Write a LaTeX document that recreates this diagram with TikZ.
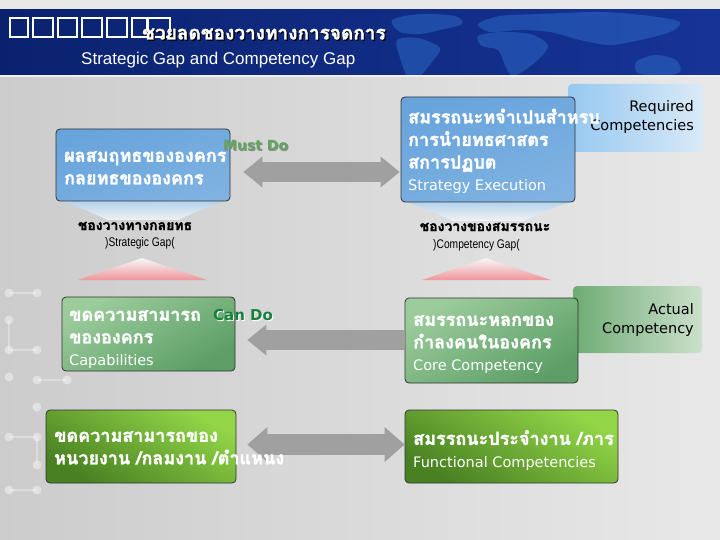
\documentclass[tikz,border=0pt]{standalone}
\usepackage{fontspec}
\setmainfont{DejaVu Sans}
\newfontfamily\thaifont[Script=Thai,BoldFeatures={FakeBold=1.6}]{Loma}
\newfontfamily\arialfont{Liberation Sans}
\newfontfamily\narrowfont[FakeStretch=0.82]{Liberation Sans}
\newcommand\engfont{\normalfont\fontsize{14.5}{16}\selectfont}
\usetikzlibrary{arrows.meta,positioning,calc}
\definecolor{sNavy}{RGB}{10,34,110}
\definecolor{sNavyL}{RGB}{22,52,150}
\definecolor{sMap}{RGB}{50,115,210}
\definecolor{sBlueA}{RGB}{104,164,220}
\definecolor{sBlueB}{RGB}{176,211,240}
\definecolor{sSideB}{RGB}{150,200,240}
\definecolor{sSideBL}{RGB}{218,234,247}
\definecolor{sGreenA}{RGB}{92,158,102}
\definecolor{sGreenB}{RGB}{156,204,156}
\definecolor{sSideG}{RGB}{110,172,116}
\definecolor{sSideGL}{RGB}{204,224,204}
\definecolor{sLimeA}{RGB}{72,128,34}
\definecolor{sLimeB}{RGB}{146,214,72}
\definecolor{sGrayArr}{RGB}{160,160,160}
\definecolor{sMust}{RGB}{96,166,96}
\definecolor{sCan}{RGB}{24,128,60}
\definecolor{sPink}{RGB}{238,150,156}

\begin{document}
\begin{tikzpicture}[x=1pt,y=-1pt,
	box/.style={draw=black!80,line width=0.8pt,rounded corners=4pt,inner sep=0pt},
	bluebox/.style={box,top color=sBlueA,middle color=sBlueB,bottom color=sBlueA!85!white,shading angle=20},
	greenbox/.style={box,top color=sGreenB,bottom color=sGreenA,shading angle=30},
	limebox/.style={box,top color=sLimeB,bottom color=sLimeA,shading angle=-30},
	side/.style={rounded corners=4pt,inner sep=0pt},
	thai/.style={font=\thaifont\bfseries\fontsize{18}{22.5}\selectfont,text=white,align=left,inner sep=0pt},
	sidetxt/.style={font=\fontsize{14.5}{19.5}\selectfont,align=right,inner sep=0pt},
	gaplbl/.style={font=\thaifont\bfseries\fontsize{14}{16}\selectfont,inner sep=0pt},
	gapsub/.style={font=\narrowfont\fontsize{12.5}{14}\selectfont,inner sep=0pt},
	garr/.style={draw=sGrayArr,line width=20pt},
	gtip/.tip={Triangle[length=19pt,width=31pt,line width=0pt]},
	gtipb/.tip={Triangle[length=20pt,width=35pt,line width=0pt]}
	]
	\useasboundingbox (0,0) rectangle (720,540);
	% background and banner
	\shade[left color=black!20,middle color=black!3,right color=black!9] (0,75) rectangle (720,540);
	\fill[black!9] (0,0) rectangle (720,10);
	\shade[left color=sNavy,right color=sNavyL] (0,10) rectangle (720,75);
	\begin{scope}
		\clip (0,10) rectangle (720,75);
		\fill[sMap,opacity=.45] plot[smooth cycle] coordinates {(392,20) (420,14) (455,16) (462,24) (440,30) (420,34) (400,32)};
		\fill[sMap,opacity=.45] plot[smooth cycle] coordinates {(397,40) (418,38) (440,48) (432,62) (418,78) (408,78) (400,58)};
		\fill[sMap,opacity=.45] plot[smooth cycle] coordinates {(478,24) (500,16) (540,14) (600,12) (650,16) (680,22) (670,32) (640,40) (610,45) (580,40) (550,32) (520,30) (490,32)};
		\fill[sMap,opacity=.45] plot[smooth cycle] coordinates {(478,36) (500,32) (530,34) (548,45) (540,58) (525,70) (512,76) (505,65) (498,50) (482,46)};
		\fill[sMap,opacity=.45] plot[smooth cycle] coordinates {(636,62) (655,55) (676,60) (680,72) (660,76) (638,73)};
	\end{scope}
	\fill[black!6] (0,75) rectangle (720,77);
	% dots on the left edge
	\draw[white,opacity=.3,line width=1.5pt] (9,293) -- (37,293) (9,320) -- (9,350) -- (37,350) (37,380) -- (67,380) (9,437) -- (37,437) -- (37,465) (9,490) -- (37,490);
	\foreach \p in {(9,293),(37,293),(9,320),(9,350),(37,350),(9,377),(37,380),(67,380),(37,407),(9,437),(37,437),(37,465),(9,490),(37,490)}
		\fill[white,opacity=.4] \p circle (4.5);
	% title
	\foreach \x/\w in {10/18,33/20,58/19,82/20,107/20,132/15,148/22}{
		\draw[black,line width=2.4pt] (\x,18) rectangle +(\w,19);
		\draw[white,line width=1.1pt] (\x,18) rectangle +(\w,19);
	}
	\node[anchor=west,text=black,font=\thaifont\bfseries\fontsize{19}{19}\selectfont,inner sep=0pt] (t0) at (143.2,35.2) {ชวยลดชองวางทางการจดการ};
	\node[anchor=west,text=white,font=\thaifont\bfseries\fontsize{19}{19}\selectfont,inner sep=0pt] (t1) at (142,34) {ชวยลดชองวางทางการจดการ};
	\node[anchor=west,text=white,font=\arialfont\fontsize{17}{17}\selectfont,inner sep=0pt] (t2) at (81,60) {Strategic Gap and Competency Gap};
	% side boxes
	\node[side,left color=sSideB,right color=sSideBL,minimum width=135pt,minimum height=68pt] (r) at (635.5,118) {};
	\node[side,left color=sSideG,right color=sSideGL,minimum width=129pt,minimum height=67pt] (s) at (637.5,319.5) {};
	\node[sidetxt,anchor=north east] (rt) at (694,100) {Required\\Competencies};
	\node[sidetxt,anchor=north east] (st) at (694,303) {Actual\\Competency};
	% reflections and gap markers
	\shade[top color=sBlueB,bottom color=black!4,opacity=.9] (61,201) -- (225,201) .. controls (200,210) .. (178,220) -- (108,220) .. controls (86,210) .. cycle;
	\shade[top color=sBlueB,bottom color=black!4,opacity=.9] (406,202) -- (570,202) .. controls (545,211) .. (523,221) -- (453,221) .. controls (431,211) .. cycle;
	\shade[top color=black!3,bottom color=sPink] (142,258) -- (207,280) -- (78,280) -- cycle;
	\shade[top color=black!3,bottom color=sPink] (486,258) -- (551,280) -- (422,280) -- cycle;
	% main boxes
	\node[bluebox,minimum width=174pt,minimum height=72pt] (a) at (143,165) {};
	\node[bluebox,minimum width=174pt,minimum height=105pt] (b) at (488,149.5) {};
	\node[greenbox,minimum width=173pt,minimum height=74pt] (c) at (148.5,334) {};
	\node[greenbox,minimum width=173pt,minimum height=85pt] (d) at (491.5,340.5) {};
	\node[limebox,minimum width=190pt,minimum height=73pt] (e) at (141,446.5) {};
	\node[limebox,minimum width=213pt,minimum height=73pt] (f) at (511.5,446.5) {};
	% arrows
	\draw[garr,gtip-gtip] ([xshift=13pt,yshift=-7pt]a.east) -- ([xshift=-1pt,yshift=-22.5pt]b.west);
	\draw[garr,gtip-] ([xshift=12pt,yshift=-6pt]c.east) -- ([xshift=-1pt,yshift=0.5pt]d.west);
	\draw[garr,line width=21pt,gtipb-gtipb] ([xshift=11pt,yshift=2pt]e.east) -- ([yshift=2pt]f.west);
	% box texts
	\node[thai,anchor=north west] (at) at (64,151) {ผลสมฤทธขององคกร\\กลยทธขององคกร};
	\node[thai,anchor=north west] (bt) at (408,108.5) {สมรรถนะทจำเปนสำหรบ\\การนำยทธศาสตร\\สการปฏบต\\{\engfont Strategy Execution}};
	\node[thai,anchor=north west] (ct) at (69,310) {ขดความสามารถ\\ขององคกร\\{\engfont Capabilities}};
	\node[thai,anchor=north west] (dt) at (413,315) {สมรรถนะหลกของ\\กำลงคนในองคกร\\{\engfont Core Competency}};
	\node[thai,anchor=north west] (et) at (54,431) {ขดความสามารถของ\\หนวยงาน /กลมงาน /ตำแหนง};
	\begin{scope}
		\clip (f.north west) rectangle (f.south east);
		\node[thai,anchor=north west] (ft) at (413,430) {สมรรถนะประจำงาน /ภาร\\{\engfont Functional Competencies}};
	\end{scope}
	% must do / can do
	\node[anchor=west,text=black!45,font=\bfseries\fontsize{14}{14}\selectfont,inner sep=0pt] (ms) at (224,146) {Must Do};
	\node[anchor=west,text=sMust,font=\bfseries\fontsize{14}{14}\selectfont,inner sep=0pt] (md) at (223,145) {Must Do};
	\node[anchor=west,text=white,font=\bfseries\fontsize{15}{15}\selectfont,inner sep=0pt] (cs) at (214,316) {Can Do};
	\node[anchor=west,text=sCan,font=\bfseries\fontsize{15}{15}\selectfont,inner sep=0pt] (cd) at (213,315) {Can Do};
	% gap labels
	\node[gaplbl] (gl) at (135,226) {ชองวางทางกลยทธ};
	\node[gapsub,anchor=west] (gls) at (105,243) {)Strategic Gap(};
	\node[gaplbl] (gr) at (485,227) {ชองวางของสมรรถนะ};
	\node[gapsub,anchor=west] (grs) at (433,245) {)Competency Gap(};
\end{tikzpicture}
\end{document}
